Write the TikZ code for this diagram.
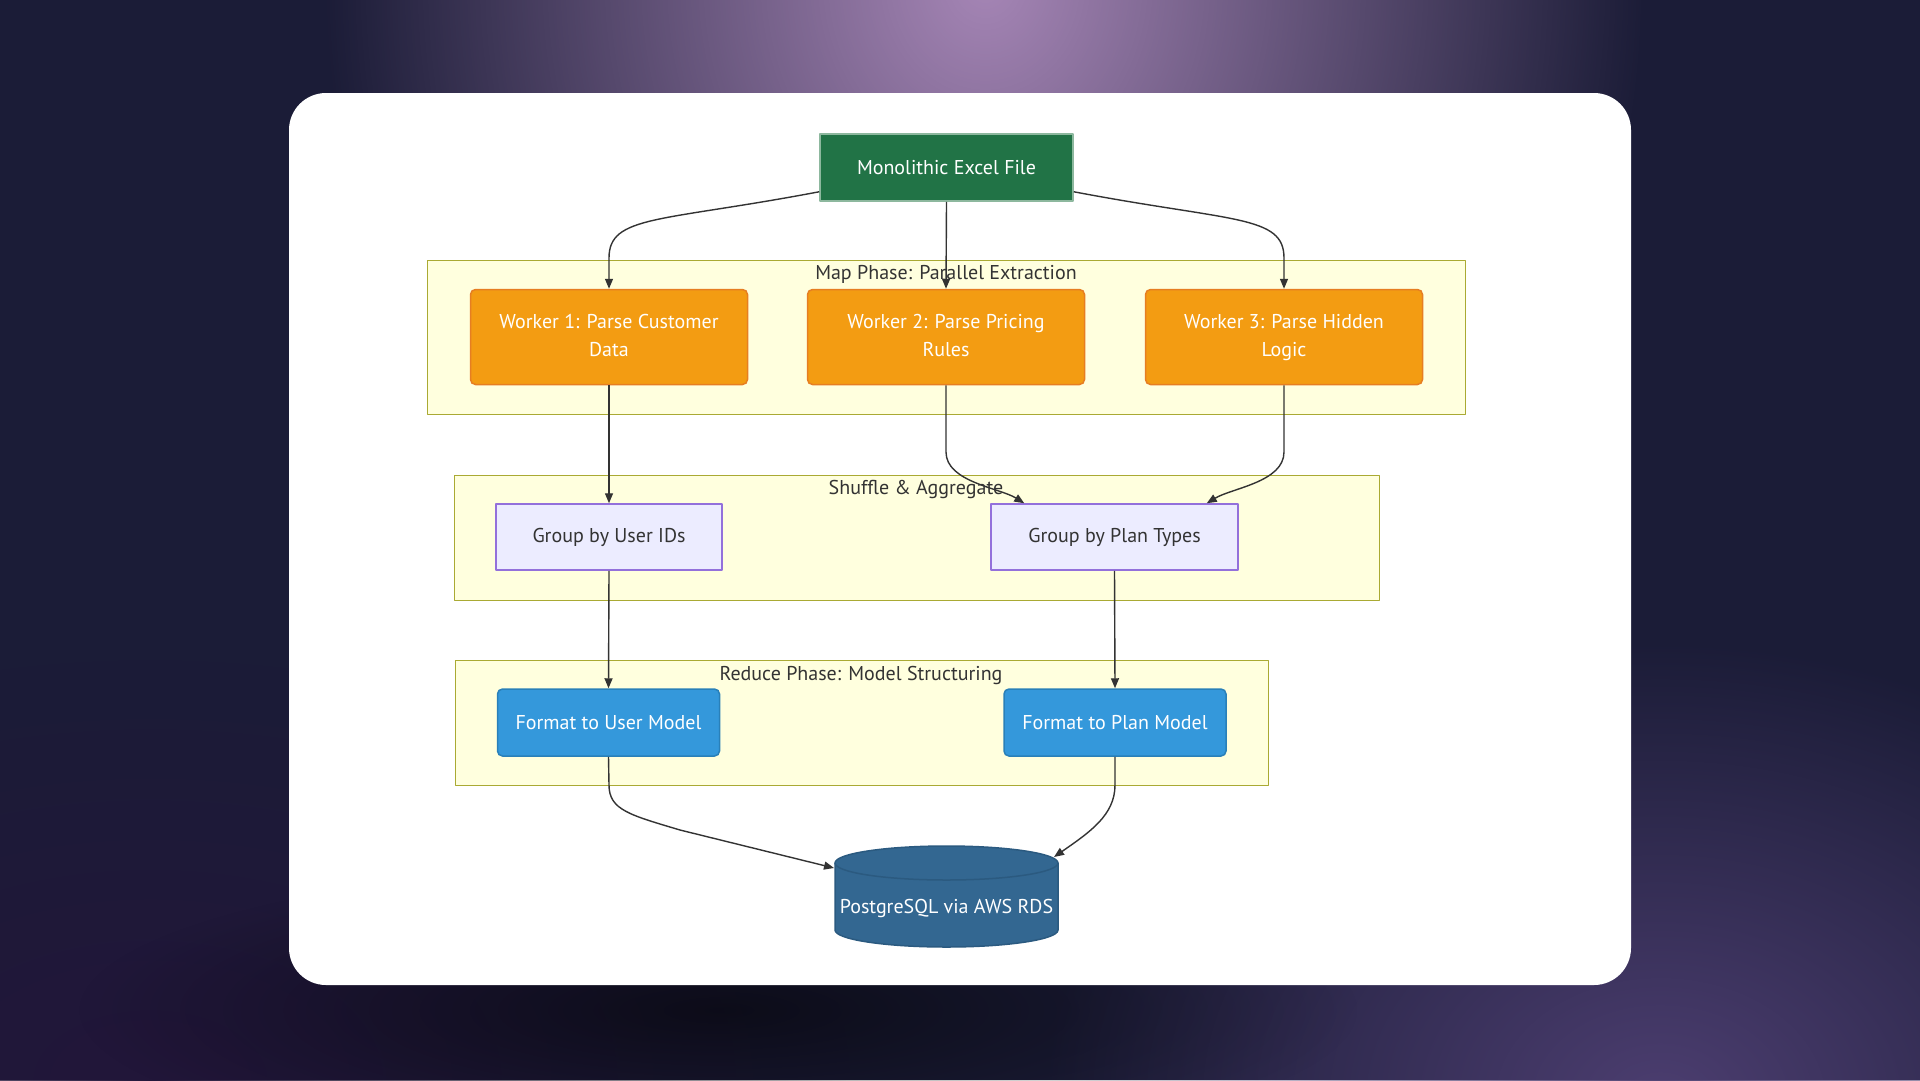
\documentclass[tikz,border=0pt]{standalone}
\usepackage{fontspec}
\setmainfont{PT Sans}
\usetikzlibrary{arrows.meta,fadings}
\definecolor{bgnavy}{HTML}{1B1C37}
\definecolor{topglow}{HTML}{A686B6}
\definecolor{lowglow}{HTML}{4C3E70}
\definecolor{cornerglow}{HTML}{22163A}
\definecolor{xlgreen}{HTML}{217346}
\definecolor{xledge}{HTML}{8DB89E}
\definecolor{wkfill}{HTML}{F39C12}
\definecolor{wkedge}{HTML}{E67E22}
\definecolor{grfill}{HTML}{ECECFF}
\definecolor{gredge}{HTML}{9370DB}
\definecolor{fmfill}{HTML}{3498DB}
\definecolor{fmedge}{HTML}{2980B9}
\definecolor{dbfill}{HTML}{336791}
\definecolor{dbedge}{HTML}{2B5A80}
\definecolor{phfill}{HTML}{FFFFDE}
\definecolor{phedge}{HTML}{AAAA33}
\definecolor{txtgray}{HTML}{333333}
\tikzfading[name=glowfade,inner color=transparent!0,outer color=transparent!100]
\begin{document}
\begin{tikzpicture}[x=1pt,y=-1pt,line join=round,
  font=\fontsize{20}{28}\selectfont,
  box/.style={draw,line width=1.5pt,align=center,inner sep=0pt},
  excel/.style={box,fill=xlgreen,draw=xledge,text=white,minimum width=253pt,minimum height=67pt},
  worker/.style={box,rounded corners=5pt,fill=wkfill,draw=wkedge,text=white,minimum width=277pt,minimum height=95pt},
  group/.style={box,fill=grfill,draw=gredge,text=txtgray,minimum height=66pt},
  fmt/.style={box,rounded corners=5pt,fill=fmfill,draw=fmedge,text=white,minimum width=222pt,minimum height=67pt},
  phase/.style={fill=phfill,draw=phedge,line width=1pt},
  phasetitle/.style={text=txtgray},
  flow/.style={draw=txtgray,line width=1.4pt,-{Triangle[length=10pt,width=8pt]}}]
  \useasboundingbox (0,0) rectangle (1920,1080);

  % Backdrop, glows and the card
  \fill[bgnavy] (0,0) rectangle (1920,1080);
  \fill[topglow,path fading=glowfade] (985,-20) ellipse [x radius=660, y radius=760];
  \fill[lowglow,path fading=glowfade] (1660,1100) ellipse [x radius=620, y radius=460];
  \fill[cornerglow,path fading=glowfade] (150,1080) ellipse [x radius=700, y radius=420];
  \fill[black,opacity=0.55,path fading=glowfade] (720,1010) ellipse [x radius=640, y radius=150];
  \fill[white,rounded corners=37pt] (289,93) rectangle (1631,985);

  % Phase frames and titles
  \draw[phase] (427,260) rectangle (1465,414);
  \draw[phase] (454,475) rectangle (1379,600);
  \draw[phase] (455,660) rectangle (1268,785);
  \node[phasetitle] (maptitle) at (946,274) {Map Phase: Parallel Extraction};
  \node[phasetitle] (shuffletitle) at (916,489) {Shuffle \& Aggregate};
  \node[phasetitle] (reducetitle) at (861,675) {Reduce Phase: Model Structuring};

  % Database cylinder
  \fill[dbfill,draw=dbedge,line width=1.5pt] (835,863) -- (835,930)
    arc[start angle=180,end angle=0,x radius=111.5,y radius=17] -- (1058,863)
    arc[start angle=0,end angle=-180,x radius=111.5,y radius=17] -- cycle;
  \draw[dbedge,line width=1.5pt] (835,863) arc[start angle=180,end angle=0,x radius=111.5,y radius=17];
  \node[text=white] (db) at (946.5,908) {PostgreSQL via AWS RDS};
  \coordinate (dbleft) at (834,868);
  \coordinate (dbright) at (1054,857);

  % Flow nodes
  \node[excel] (excel) at (946.5,167.5) {Monolithic Excel File};
  \node[worker] (wk1) at (609,337) {Worker 1: Parse Customer\strut\\Data\strut};
  \node[worker] (wk2) at (946,337) {Worker 2: Parse Pricing\strut\\Rules\strut};
  \node[worker] (wk3) at (1284,337) {Worker 3: Parse Hidden\strut\\Logic\strut};
  \node[group,minimum width=226pt] (grpuser) at (609,537) {Group by User IDs};
  \node[group,minimum width=247pt] (grpplan) at (1114.5,537) {Group by Plan Types};
  \node[fmt] (fmtuser) at (608.5,722.5) {Format to User Model};
  \node[fmt] (fmtplan) at (1115,722.5) {Format to Plan Model};

  % Connectors
  \draw[flow] ([yshift=10pt]excel.south west) .. controls (660,222) and (609,215) .. (609,258) -- (wk1.north);
  \draw[flow] (excel.south) -- (wk2.north);
  \draw[flow] ([yshift=10pt]excel.south east) .. controls (1233,222) and (1284,215) .. (1284,258) -- (wk3.north);
  \draw[flow] (wk1.south) -- (grpuser.north);
  \draw[flow] (wk2.south) -- (946,452) .. controls (946,482) and (1000,488) .. ([xshift=34pt]grpplan.north west);
  \draw[flow] (wk3.south) -- (1284,452) .. controls (1284,482) and (1232,488) .. ([xshift=-32pt]grpplan.north east);
  \draw[flow] (grpuser.south) -- (fmtuser.north);
  \draw[flow] (grpplan.south) -- (fmtplan.north);
  \draw[flow] (fmtuser.south) -- (609,785) .. controls (609,810) and (630,815) .. (680,830) -- (dbleft);
  \draw[flow] (fmtplan.south) -- (1115,785) .. controls (1115,815) and (1090,832) .. (dbright);
\end{tikzpicture}
\end{document}
